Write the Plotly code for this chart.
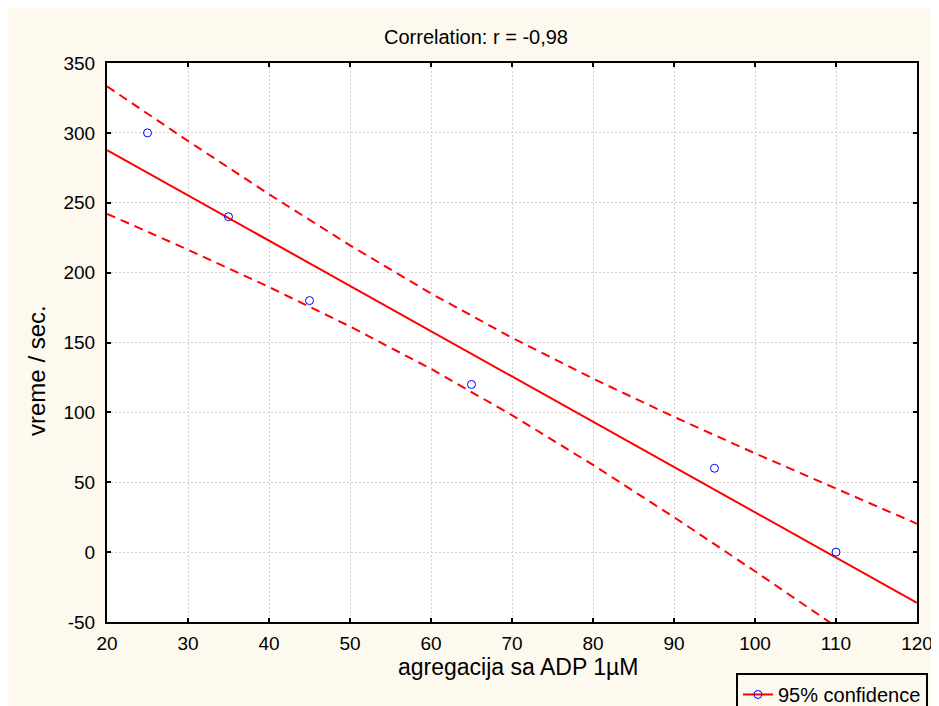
import plotly.graph_objects as go

# Data points
agg_x = [25, 35, 45, 65, 95, 110]
time_y = [300, 240, 180, 120, 60, 0]

# Regression line endpoints
fit_x = [20, 120]
fit_y = [287.7, -36.3]

# 95% confidence band
band_x = [20, 30, 40, 50, 60, 70, 80, 90, 100, 110, 120]
band_upper = [333.3, 294.2, 256.1, 219.5, 185.1, 153.4, 124.2, 96.8, 70.7, 45.3, 20.3]
band_lower = [242.1, 216.4, 189.7, 161.5, 131.1, 98.0, 62.4, 25.0, -13.7, -53.0, -92.9]

x_ticks = [20, 30, 40, 50, 60, 70, 80, 90, 100, 110, 120]
y_ticks = [-50, 0, 50, 100, 150, 200, 250, 300, 350]
y_tick_labels = ["-50", "0", "50", "100", "150", "200", "250", "300", "350"]

RED = "#FF0000"
BLUE = "#0000FF"
FONT = "Arial, 'Liberation Sans', sans-serif"
W, H = 960, 706

fig = go.Figure()
fig.add_trace(go.Scatter(x=band_x, y=band_upper, mode="lines",
                         line=dict(color=RED, width=2, dash="9px,6px"),
                         showlegend=False, hoverinfo="skip"))
fig.add_trace(go.Scatter(x=band_x, y=band_lower, mode="lines",
                         line=dict(color=RED, width=2, dash="9px,6px"),
                         showlegend=False, hoverinfo="skip"))
fig.add_trace(go.Scatter(x=fit_x, y=fit_y, mode="lines",
                         line=dict(color=RED, width=2),
                         showlegend=False))
fig.add_trace(go.Scatter(x=agg_x, y=time_y, mode="markers",
                         marker=dict(symbol="circle-open", size=8, color=BLUE,
                                     line=dict(color=BLUE, width=1)),
                         showlegend=False))
# legend entry
fig.add_trace(go.Scatter(x=[None], y=[None], mode="lines+markers",
                         name="95% confidence",
                         line=dict(color=RED, width=2),
                         marker=dict(symbol="circle-open", size=8, color=BLUE,
                                     line=dict(color=BLUE, width=1))))

axis_common = dict(
    showline=True, linecolor="black", linewidth=2, mirror="ticks",
    ticks="inside", ticklen=4, tickwidth=2, tickcolor="black",
    showgrid=True, gridcolor="#d2d2d2", griddash="2px,2px", gridwidth=1,
    zeroline=False, tickfont=dict(family=FONT, size=19, color="black"),
)

fig.update_xaxes(range=[20, 120], tickvals=x_ticks,
                 ticklabelstandoff=3, **axis_common)
fig.update_yaxes(range=[-50, 350], tickvals=y_ticks, ticktext=y_tick_labels,
                 ticklabelstandoff=6, **axis_common)

fig.add_annotation(text="vreme / sec.", textangle=-90,
                   xref="paper", yref="paper", x=-0.0877, y=0.4508,
                   xanchor="center", yanchor="middle", showarrow=False,
                   font=dict(family=FONT, size=24, color="black"))
fig.add_annotation(text="agregacija sa ADP 1µM",
                   xref="paper", yref="paper", x=0.507, y=-0.0805,
                   xanchor="center", yanchor="middle", showarrow=False,
                   font=dict(family=FONT, size=23, color="black"))

fig.update_layout(
    width=W, height=H,
    margin=dict(l=99, r=W - 909, t=55, b=92, autoexpand=False),
    paper_bgcolor="#FDF9EF", plot_bgcolor="white",
    title=dict(text="Correlation: r = -0,98", x=468 / W, xref="container",
               xanchor="center",
               y=1 - 29 / H, yanchor="middle",
               font=dict(family=FONT, size=20, color="black")),
    showlegend=True,
    legend=dict(x=0.7765, y=-0.0912, xanchor="left", yanchor="top",
                bgcolor="#FDF9EF", bordercolor="black", borderwidth=2,
                font=dict(family=FONT, size=20, color="black")),
    font=dict(family=FONT),
)

fig.write_html("out.html")
